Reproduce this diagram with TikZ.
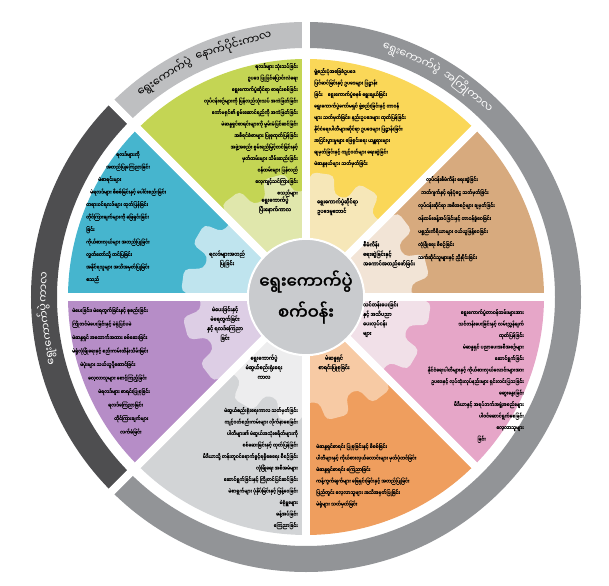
\documentclass[tikz,border=0pt]{standalone}
\usepackage{fontspec}
\usepackage{tikz}
\newfontfamily\mmfont[Script=Myanmar, AutoFakeBold=2]{Noto Sans Myanmar UI}
\newfontfamily\mmnarrow[Script=Myanmar, FakeStretch=0.85, AutoFakeBold=1.5]{Noto Sans Myanmar UI}
\newfontfamily\mmdetail[Script=Myanmar, FakeStretch=0.85, FakeBold=0.6]{Noto Sans Myanmar UI}
\definecolor{ecgreen}{RGB}{196,213,84}
\definecolor{ecgreenlt}{RGB}{224,231,172}
\definecolor{ecyellow}{RGB}{250,215,88}
\definecolor{ecyellowlt}{RGB}{246,231,184}
\definecolor{ectan}{RGB}{215,170,126}
\definecolor{ectanlt}{RGB}{242,228,214}
\definecolor{ecpink}{RGB}{230,166,200}
\definecolor{ecpinklt}{RGB}{241,224,232}
\definecolor{ecorange}{RGB}{239,158,94}
\definecolor{ecorangelt}{RGB}{247,202,164}
\definecolor{ecgrey}{RGB}{210,212,214}
\definecolor{ecgreylt}{RGB}{237,237,238}
\definecolor{ecpurple}{RGB}{182,141,199}
\definecolor{ecpurplelt}{RGB}{221,206,229}
\definecolor{ecblue}{RGB}{70,181,206}
\definecolor{ecbluelt}{RGB}{191,228,238}
\definecolor{echub}{RGB}{201,203,206}
\definecolor{ecbandlt}{RGB}{190,191,193}
\definecolor{ecbandmid}{RGB}{146,148,151}
\definecolor{ecbanddk}{RGB}{78,78,80}
\newcommand{\gearpath}{(0:106) \foreach \i in {0,...,15} {-- (\i*22.5+7:106) -- (\i*22.5+9.5:125) -- (\i*22.5+20:125) -- (\i*22.5+22.5:106)} -- cycle}
\newcommand{\phasefont}{\mmfont\fontsize{11}{13}\selectfont}
% widths of the band words
\newlength{\welect}\settowidth{\welect}{\phasefont ရွေးကောက်ပွဲ}
\newlength{\wafter}\settowidth{\wafter}{\phasefont နောက်ပိုင်းကာလ}
\newlength{\wbefore}\settowidth{\wbefore}{\phasefont အကြိုကာလ}
\newlength{\wperiod}\settowidth{\wperiod}{\phasefont ကာလ}

\begin{document}
\begin{tikzpicture}[
  x=1pt, y=1pt,
  gap/.style={draw=white, line width=8pt},
  detail/.style={font=\mmdetail\fontsize{5.2}{11.5}\selectfont, inner sep=0pt},
  sectitle/.style={font=\mmnarrow\bfseries\fontsize{5.6}{9.5}\selectfont, inner sep=0pt, align=center},
  phaselabel/.style={font=\phasefont, inner sep=0pt},
  hub/.style={circle, fill=echub, draw=white, line width=2pt, minimum size=104pt, align=center, font=\mmfont\bfseries\fontsize{16.5}{31}\selectfont}
]
\useasboundingbox (-306,-288) rectangle (303,297);

% Outer bands - the three periods
\fill[ecbandlt] (90:249) arc[start angle=90, end angle=135, radius=249] -- (135:275) arc[start angle=135, end angle=90, radius=275] -- cycle;
\fill[ecbanddk] (135:249) arc[start angle=135, end angle=225, radius=249] -- (225:275) arc[start angle=225, end angle=135, radius=275] -- cycle;
\fill[ecbandmid] (225:249) arc[start angle=225, end angle=450, radius=249] -- (90:275) arc[start angle=450, end angle=225, radius=275] -- cycle;

% Sectors
\begin{scope}
  \clip (0,0) -- (90:238) arc[start angle=90, end angle=135, radius=238] -- cycle;
  \fill[ecgreen] (0,0) circle[radius=240];
  \fill[ecgreenlt, rounded corners=5pt] \gearpath;
\end{scope}
\begin{scope}
  \clip (0,0) -- (135:238) arc[start angle=135, end angle=180, radius=238] -- cycle;
  \fill[ecblue] (0,0) circle[radius=240];
  \fill[ecbluelt, rounded corners=5pt] \gearpath;
\end{scope}
\begin{scope}
  \clip (0,0) -- (180:238) arc[start angle=180, end angle=225, radius=238] -- cycle;
  \fill[ecpurple] (0,0) circle[radius=240];
  \fill[ecpurplelt, rounded corners=5pt] \gearpath;
\end{scope}
\begin{scope}
  \clip (0,0) -- (225:238) arc[start angle=225, end angle=270, radius=238] -- cycle;
  \fill[ecgrey] (0,0) circle[radius=240];
  \fill[ecgreylt, rounded corners=5pt] \gearpath;
\end{scope}
\begin{scope}
  \clip (0,0) -- (270:238) arc[start angle=270, end angle=315, radius=238] -- cycle;
  \fill[ecorange] (0,0) circle[radius=240];
  \fill[ecorangelt, rounded corners=5pt] \gearpath;
\end{scope}
\begin{scope}
  \clip (0,0) -- (315:238) arc[start angle=315, end angle=360, radius=238] -- cycle;
  \fill[ecpink] (0,0) circle[radius=240];
  \fill[ecpinklt, rounded corners=5pt] \gearpath;
\end{scope}
\begin{scope}
  \clip (0,0) -- (0:238) arc[start angle=0, end angle=45, radius=238] -- cycle;
  \fill[ectan] (0,0) circle[radius=240];
  \fill[ectanlt, rounded corners=5pt] \gearpath;
\end{scope}
\begin{scope}
  \clip (0,0) -- (45:238) arc[start angle=45, end angle=90, radius=238] -- cycle;
  \fill[ecyellow] (0,0) circle[radius=240];
  \fill[ecyellowlt, rounded corners=5pt] \gearpath;
\end{scope}

% White gaps
\draw[gap] (0:240) -- (180:240);
\draw[gap] (45:240) -- (225:240);
\draw[gap] (90:240) -- (270:240);
\draw[gap] (135:240) -- (315:240);
\draw[gap] (90:244) -- (90:280);
\draw[gap] (135:244) -- (135:280);
\draw[gap] (225:244) -- (225:280);

% Hub
\node[hub] (hub) at (0,0) {ရွေးကောက်ပွဲ\\စက်ဝန်း};

% Period labels on the bands (angles from the word widths)
\pgfmathsetmacro{\aelect}{\welect/262*57.2958}
\pgfmathsetmacro{\aafter}{\wafter/262*57.2958}
\pgfmathsetmacro{\abefore}{\wbefore/262*57.2958}
\pgfmathsetmacro{\aperiod}{\wperiod/262*57.2958}
\pgfmathsetmacro{\postone}{129.5-\aelect/2}
\pgfmathsetmacro{\posttwo}{129.5-\aelect-1.2-\aafter/2}
\pgfmathsetmacro{\preone}{73-\aelect/2}
\pgfmathsetmacro{\pretwo}{73-\aelect-1.2-\abefore/2}
\pgfmathsetmacro{\elecone}{195-\aelect/2}
\pgfmathsetmacro{\electwo}{195-\aelect-0.3-\aperiod/2}
\node[phaselabel, rotate=\postone-90] (post1) at (\postone:262) {ရွေးကောက်ပွဲ};
\node[phaselabel, rotate=\posttwo-90] (post2) at (\posttwo:262) {နောက်ပိုင်းကာလ};
\node[phaselabel, white, rotate=\preone-90] (pre1) at (\preone:262) {ရွေးကောက်ပွဲ};
\node[phaselabel, white, rotate=\pretwo-90] (pre2) at (\pretwo:262) {အကြိုကာလ};
\node[phaselabel, white, rotate=\elecone-90] (elec1) at (\elecone:262) {ရွေးကောက်ပွဲ};
\node[phaselabel, white, rotate=\electwo-90] (elec2) at (\electwo:262) {ကာလ};

% Sector titles
\node[sectitle] (t1) at (-31,92) {ရွေးကောက်ပွဲ\\ပြီးနောက်ကာလ};
\node[sectitle, align=left, anchor=north west] (t2) at (11,99) {ရွေးကောက်ပွဲဆိုင်ရာ\\ဥပဒေမူဘောင်};
\node[sectitle, align=left, anchor=north west] (t3) at (57,56) {စီမံကိန်း\\ရေးဆွဲခြင်းနှင့်\\အကောင်အထည်ဖော်ခြင်း};
\node[sectitle, align=left, anchor=north west] (t4) at (57,-4) {သင်တန်းပေးခြင်း\\နှင့် အသိပညာ\\ပေးလုပ်ငန်း\\များ};
\node[sectitle] (t5) at (28,-66) {မဲဆန္ဒရှင်\\စာရင်းပြုစုခြင်း};
\node[sectitle] (t6) at (-42,-70) {ရွေးကောက်ပွဲ\\မဲဆွယ်စည်းရုံးရေး\\ကာလ};
\node[sectitle] (t7) at (-81,-27) {မဲပေးခြင်းနှင့်\\မဲရေတွက်ခြင်း\\နှင့် ရလဒ်ကြေညာ\\ခြင်း};
\node[sectitle] (t8) at (-79,38) {ရလဒ်များအတည်\\ပြုခြင်း};

% Sector details
\node[detail, anchor=north east, align=right] (d1) at (-8,234) {ရလဒ်များ သုံးသပ်ခြင်း\\ဥပဒေ ပြုပြင်ပြောင်းလဲရေး\\ရွေးကောက်ပွဲဆိုင်ရာ စာရင်းစစ်ခြင်း\\လုပ်ငန်းစဉ်များကို ပြန်လည်သုံးသပ် အကဲဖြတ်ခြင်း\\ကော်မရှင်၏ စွမ်းဆောင်ရည်ကို အကဲဖြတ်ခြင်း\\မဲဆန္ဒရှင်စာရင်းများကို မွမ်းမံပြင်ဆင်ခြင်း\\အစီရင်ခံစာများ ပြုစုထုတ်ပြန်ခြင်း\\အဖွဲ့အစည်း စွမ်းရည်မြှင့်တင်ခြင်းနှင့်\\မှတ်တမ်းများ သိမ်းဆည်းခြင်း\\ဝန်ထမ်းများ ပြန်လည်\\လေ့ကျင့်သင်ကြားခြင်း\\စသည်များ};
\node[detail, anchor=north west, align=left] (d2) at (8,229) {ဖွဲ့စည်းပုံအခြေခံဥပဒေ\\ပြင်ဆင်ခြင်းနှင့် ဥပဒေများ ပြဋ္ဌာန်း\\ခြင်း\quad ရွေးကောက်ပွဲစနစ် ရွေးချယ်ခြင်း\\ရွေးကောက်ပွဲကော်မရှင် ဖွဲ့စည်းခြင်းနှင့် တာဝန်\\များ သတ်မှတ်ခြင်း၊ နည်းဥပဒေများ ထုတ်ပြန်ခြင်း\\နိုင်ငံရေးပါတီများဆိုင်ရာ ဥပဒေများ ပြဋ္ဌာန်းခြင်း\\အငြင်းပွားမှုများ ဖြေရှင်းရေး ယန္တရားများ\\ချမှတ်ခြင်းနှင့် ကျင့်ဝတ်များ ရေးဆွဲခြင်း\\မဲဆန္ဒနယ်များ သတ်မှတ်ခြင်း};
\node[detail, anchor=north west, align=left, font=\mmdetail\fontsize{5.2}{13}\selectfont] (d3) at (112,121) {\hspace*{8pt}လုပ်ငန်းစီမံကိန်း ရေးဆွဲခြင်း\\\hspace*{3pt}ဘတ်ဂျက်နှင့် ရန်ပုံငွေ သတ်မှတ်ခြင်း\\လုပ်ငန်းဆိုင်ရာ အစီအစဉ်များ ချမှတ်ခြင်း\\ဝန်ထမ်းခန့်အပ်ခြင်းနှင့် တာဝန်ခွဲဝေခြင်း\\ပစ္စည်းကိရိယာများ ဝယ်ယူဖြန့်ဝေခြင်း\\လုံခြုံရေး စီစဉ်ခြင်း\\သက်ဆိုင်သူများနှင့် ညှိနှိုင်းခြင်း};
\node[detail, anchor=north east, align=right] (d4) at (218,-12) {ရွေးကောက်ပွဲတာဝန်ထမ်းများအား\\သင်တန်းပေးခြင်းနှင့် လမ်းညွှန်ချက်\\ထုတ်ပြန်ခြင်း\\မဲဆန္ဒရှင် ပညာပေးအစီအစဉ်များ\\ဆောင်ရွက်ခြင်း\\နိုင်ငံရေးပါတီများနှင့် ကိုယ်စားလှယ်လောင်းများအား\\ဥပဒေနှင့် လုပ်ထုံးလုပ်နည်းများ ရှင်းလင်းပြသခြင်း\\ဆွေးနွေးခြင်း\\မီဒီယာနှင့် အရပ်ဘက်အဖွဲ့အစည်းများ\hspace*{6pt}\\ပါဝင်ဆောင်ရွက်စေခြင်း\hspace*{18pt}\\လေ့လာသူများ\hspace*{28pt}\\ခြင်း\hspace*{38pt}};
\node[detail, anchor=north west, align=left] (d5) at (10,-146) {မဲဆန္ဒရှင်စာရင်း ပြုစုခြင်းနှင့် စိစစ်ခြင်း\\ပါတီများနှင့် ကိုယ်စားလှယ်လောင်းများ မှတ်ပုံတင်ခြင်း\\မဲဆန္ဒရှင်စာရင်း ကြေညာခြင်း\\ကန့်ကွက်ချက်များ ဖြေရှင်းခြင်းနှင့် အတည်ပြုခြင်း\\ပြည်တွင်း လေ့လာသူများ အသိအမှတ်ပြုခြင်း\\မဲရုံများ သတ်မှတ်ခြင်း};
\node[detail, anchor=north east, align=right] (d6) at (-8,-110) {မဲဆွယ်စည်းရုံးရေးကာလ သတ်မှတ်ခြင်း\\ကျင့်ဝတ်စည်းကမ်းများ လိုက်နာစေခြင်း\\ပါတီများ၏ မဲဆွယ်အသုံးစရိတ်များကို\\စစ်ဆေးခြင်းနှင့် ထုတ်ပြန်ခြင်း\\မီဒီယာသို့ တန်းတူဝင်ရောက်ခွင့်ရရှိစေရေး စီစဉ်ခြင်း\\လုံခြုံရေး အစီအမံများ\\ဆောင်ရွက်ခြင်းနှင့် ကြိုတင်ပြင်ဆင်ခြင်း\\မဲစာရွက်များ ပုံနှိပ်ခြင်းနှင့် ဖြန့်ဝေခြင်း\\မဲရုံမှူးများ\\ခန့်အပ်ခြင်း\\ကြေညာခြင်း};
\node[detail, anchor=north west, align=left, font=\mmdetail\fontsize{5.2}{13.5}\selectfont] (d7) at (-234,-10) {မဲပေးခြင်း၊ မဲရေတွက်ခြင်းနှင့် စုစည်းခြင်း\\ကြိုတင်မဲပေးခြင်းနှင့် မဲရုံပြင်ပမဲ\\မဲဆန္ဒရှင် အထောက်အထား စစ်ဆေးခြင်း\\မဲရုံလုံခြုံရေးနှင့် စည်းကမ်းထိန်းသိမ်းခြင်း\\\hspace*{8pt}မဲပုံးများ သယ်ယူပို့ဆောင်ခြင်း\\\hspace*{16pt}လေ့လာသူများ စောင့်ကြည့်ခြင်း\\\hspace*{26pt}မဲရလဒ်များ စာရင်းပြုစုခြင်း\\\hspace*{36pt}ရလဒ်ကြေညာခြင်း\\\hspace*{42pt}တိုင်ကြားချက်များ\\\hspace*{48pt}လက်ခံခြင်း};
\node[detail, anchor=north west, align=left, font=\mmdetail\fontsize{5.2}{12.5}\selectfont] (d8) at (-220,146) {\hspace*{30pt}ရလဒ်များကို\\\hspace*{20pt}အတည်ပြုကြေညာခြင်း\\\hspace*{12pt}မဲစာရင်းများ\\\hspace*{4pt}မဲရလဒ်များ စိစစ်ခြင်းနှင့် ပေါင်းစည်းခြင်း\\တရားဝင်ရလဒ်များ ထုတ်ပြန်ခြင်း\\တိုင်ကြားချက်များကို ဖြေရှင်းခြင်း\\ခြင်း\\ကိုယ်စားလှယ်များ အတည်ပြုခြင်း\\လွှတ်တော်သို့ တင်ပြခြင်း\\အနိုင်ရသူများ အသိအမှတ်ပြုခြင်း\\စသည်};

\end{tikzpicture}
\end{document}
